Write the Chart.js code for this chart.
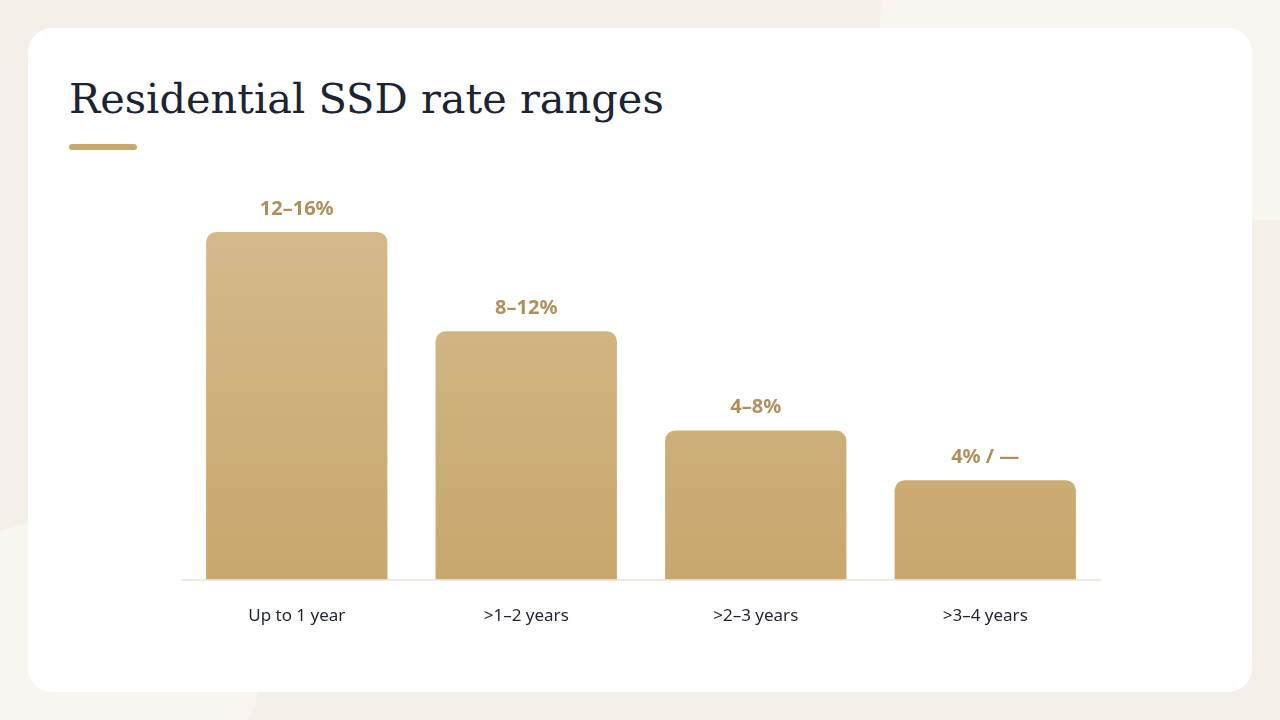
<!DOCTYPE html>
<html><head><meta charset="utf-8">
<script src="https://cdn.jsdelivr.net/npm/chart.js@4"></script>
<style>
html,body{margin:0;width:1280px;height:720px;overflow:hidden;background:#f4efe8;font-family:"Noto Sans",sans-serif;}
.blob1{position:absolute;left:880px;top:-40px;width:500px;height:260px;border-radius:60px;background:#f8f5f0;}
.blob2{position:absolute;left:-120px;top:520px;width:380px;height:300px;border-radius:50%;background:#f9f6f1;}
.card{position:absolute;left:28px;top:28px;width:1224px;height:664px;background:#fff;border-radius:24px;}
h1{position:absolute;left:69px;top:74px;margin:0;font-family:"DejaVu Serif","Liberation Serif",serif;font-weight:400;font-size:41.5px;color:#1c2333;}
.bar{position:absolute;left:69px;top:144px;width:68px;height:6px;border-radius:3px;background:#c9a86d;}
canvas{position:absolute;left:0;top:0;}
</style></head><body>
<div class="blob1"></div><div class="blob2"></div>
<div class="card"></div>
<h1>Residential SSD rate ranges</h1>
<div class="bar"></div>
<canvas id="c" width="1280" height="720"></canvas>
<script>
const categories=["Up to 1 year",">1–2 years",">2–3 years",">3–4 years"];
const values=[14,10,6,4];
const valueLabels=["12–16%","8–12%","4–8%","4% / —"];
const labelPlugin={id:'lbl',afterDatasetsDraw(chart){const ctx=chart.ctx;const meta=chart.getDatasetMeta(0);ctx.save();ctx.font='bold 20px "Noto Sans"';ctx.fillStyle='#b08f5a';ctx.textAlign='center';ctx.textBaseline='middle';meta.data.forEach((b,i)=>{ctx.fillText(valueLabels[i],b.x,b.y-23);});ctx.restore();}};
new Chart(document.getElementById('c'),{type:'bar',data:{labels:categories,datasets:[{data:values,
backgroundColor(c){const a=c.chart.chartArea;if(!a)return '#cfb07c';const g=c.chart.ctx.createLinearGradient(0,233,0,583);g.addColorStop(0,'#d4b98b');g.addColorStop(1,'#c8a76c');return g;},
borderRadius:{topLeft:10,topRight:10},borderSkipped:'bottom',barPercentage:0.79,categoryPercentage:1}]},
options:{responsive:false,animation:false,layout:{padding:{left:182,right:180,top:83,bottom:68}},
plugins:{legend:{display:false},tooltip:{enabled:false}},
scales:{y:{display:false,min:0,max:20},x:{grid:{display:false,drawTicks:false},border:{display:true,color:'#efe9df',width:2},ticks:{padding:26,color:'#1f2430',font:{size:17,family:'"Noto Sans"'}}}}},
plugins:[labelPlugin]});
</script></body></html>
